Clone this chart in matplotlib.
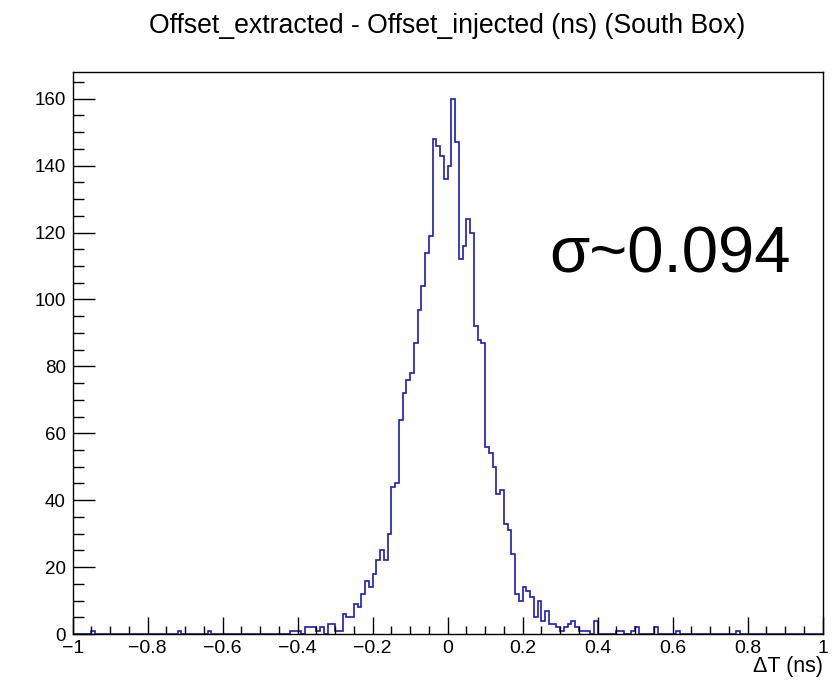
import numpy as np
import matplotlib
matplotlib.use('Agg')
import matplotlib.pyplot as plt
from matplotlib.ticker import MultipleLocator, FuncFormatter

plt.rcParams['font.family'] = ['Liberation Sans', 'DejaVu Sans']

# histogram binning: 200 bins over [-1, 1]
n_bins = 200
x_min, x_max = -1.0, 1.0

# contiguous core of the distribution, first bin low edge at -0.42
core_start = -0.42
core_counts = [1, 1, 1, 0, 2, 2, 2, 1, 2, 0,
               3, 3, 1, 1, 6, 5, 5, 9, 8, 12,
               16, 14, 18, 22, 25, 22, 30, 44, 45, 64,
               72, 76, 78, 87, 97, 104, 114, 119, 148, 146,
               143, 136, 140, 160, 147, 112, 116, 124, 120, 92,
               88, 87, 56, 54, 50, 42, 43, 33, 31, 24,
               12, 10, 14, 13, 11, 5, 10, 4, 7, 3,
               3, 2, 1, 2, 3, 4, 2, 1, 1, 1,
               0, 4]

# isolated entries in the tails (bin low edge, count)
tail_lo = [-0.95, -0.72, -0.64, 0.45, 0.46, 0.49, 0.50, 0.55, 0.61, 0.77]
tail_counts = [1, 1, 1, 1, 1, 1, 2, 2, 1, 1]

title = "Offset_extracted - Offset_injected (ns) (South Box)"
x_label = "\u0394T (ns)"
note = "\u03c3~0.094"

edges = np.linspace(x_min, x_max, n_bins + 1)
counts = np.zeros(n_bins)
i0 = int(round((core_start - x_min) * 100))
counts[i0:i0 + len(core_counts)] = core_counts
for lo, n in zip(tail_lo, tail_counts):
    counts[int(round((lo - x_min) * 100))] = n

fig = plt.figure(figsize=(8.38, 6.83), dpi=100)
ax = fig.add_axes([0.0868, 0.0717, 0.895, 0.8229])

ax.stairs(counts, edges, color='#1c1cb4', linewidth=1.2)

ax.set_xlim(x_min, x_max)
ax.set_ylim(0, 168)

ax.xaxis.set_major_locator(MultipleLocator(0.2))
ax.xaxis.set_minor_locator(MultipleLocator(0.05))
ax.yaxis.set_major_locator(MultipleLocator(20))
ax.yaxis.set_minor_locator(MultipleLocator(5))


def fmt_x(v, pos):
    v = round(v, 2)
    if abs(v) < 1e-9:
        return "0"
    s = f"{v:g}"
    return s.replace("-", "\u2212")


ax.xaxis.set_major_formatter(FuncFormatter(fmt_x))
ax.yaxis.set_major_formatter(FuncFormatter(lambda v, p: f"{int(v)}"))

ax.tick_params(axis='x', which='major', direction='in', length=12, width=1,
               labelsize=14, pad=4.5)
ax.tick_params(axis='x', which='minor', direction='in', length=6, width=1)
ax.tick_params(axis='y', which='major', direction='in', length=16, width=1,
               labelsize=13.5, pad=5)
ax.tick_params(axis='y', which='minor', direction='in', length=8, width=1)
for s in ax.spines.values():
    s.set_linewidth(1)

fig.text(0.534, 0.962, title, ha='center', va='center', fontsize=19.2)
ax.text(1.0, -0.058, x_label, transform=ax.transAxes, ha='right', va='center',
        fontsize=15.5)
ax.text(0.27, 108, note, ha='left', va='baseline', fontsize=47)

fig.savefig('out.png', dpi=100)
